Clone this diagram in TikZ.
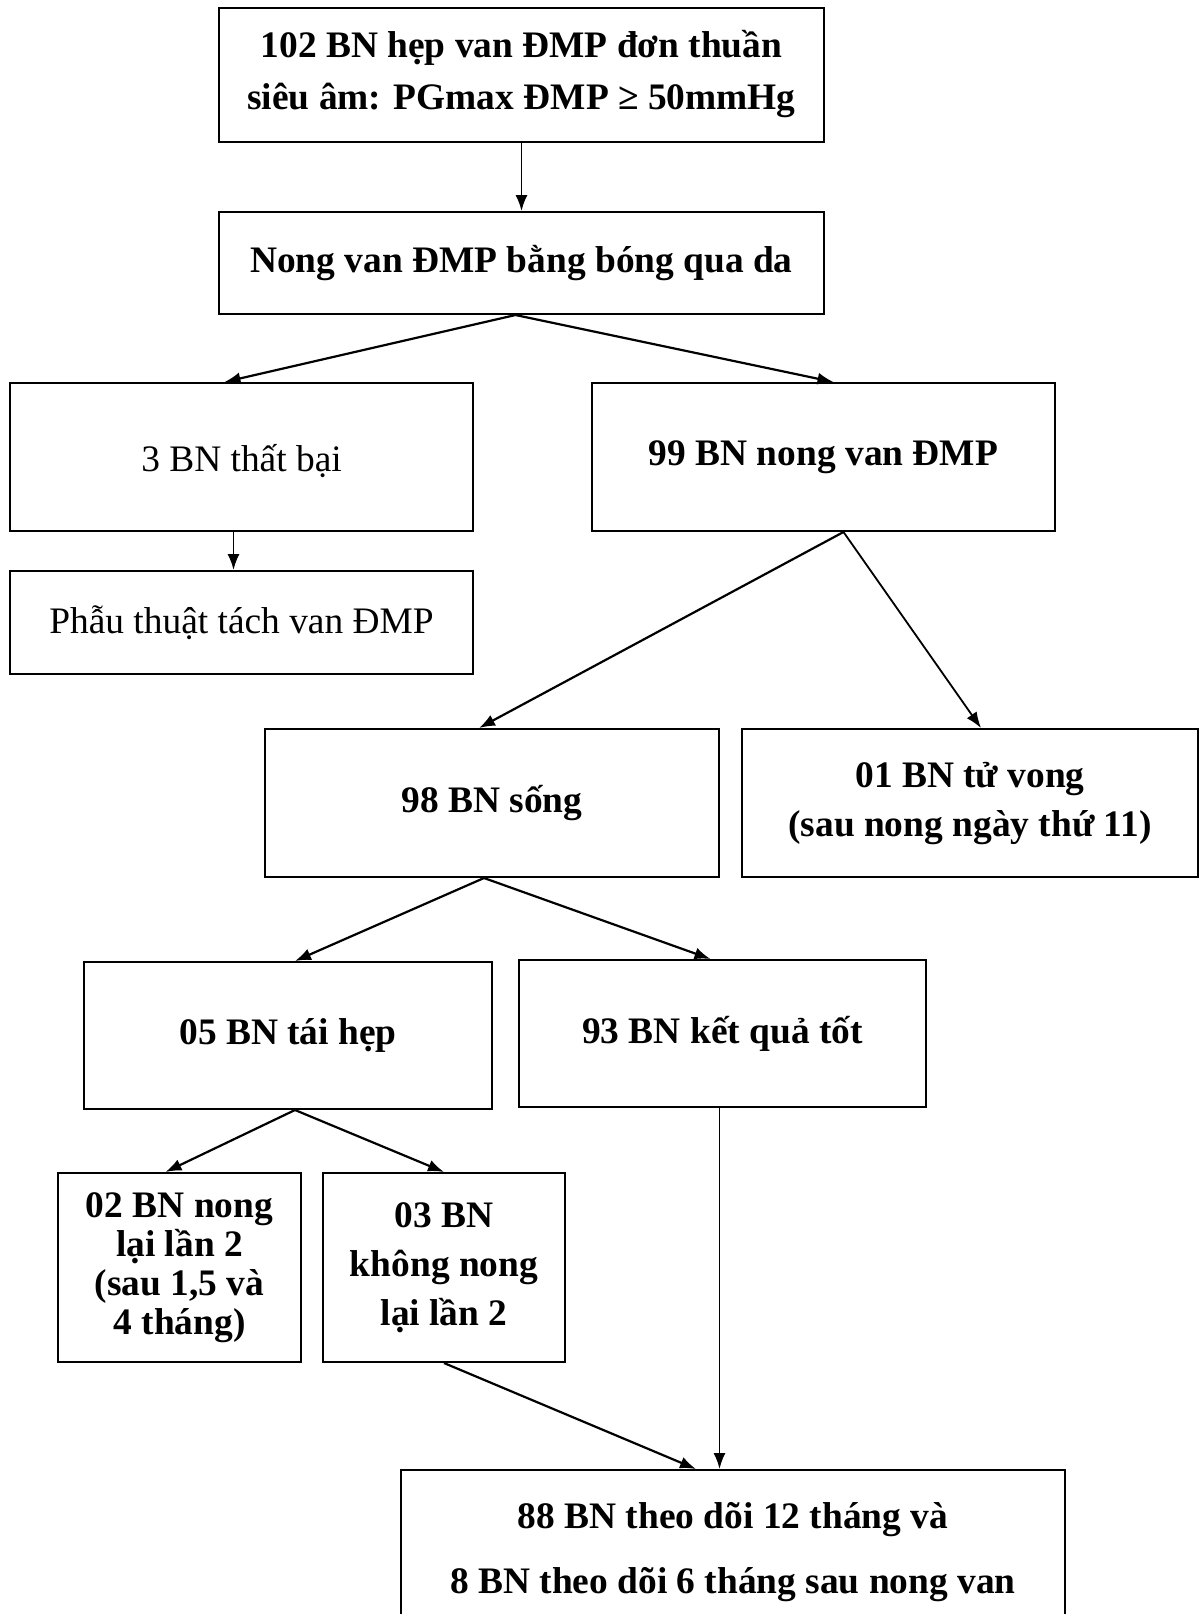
\documentclass[tikz,border=0pt]{standalone}
\usepackage{fontspec}
\setmainfont{Liberation Serif}
\usepackage{tikz}
\usetikzlibrary{arrows.meta}

\tikzset{
  box/.style={draw, line width=1pt, inner sep=0pt, align=center,
    font=\fontsize{18.7pt}{22.5pt}\selectfont\bfseries},
  plainbox/.style={box, font=\fontsize{18.7pt}{22.5pt}\selectfont},
  arr/.style={-{Latex[length=8pt,width=6pt]}, line width=1.1pt},
  thinarr/.style={arr, line width=0.9pt}
}

\begin{document}
\begin{tikzpicture}[x=0.5pt,y=-0.5pt]
%\draw[help lines](0,0)grid(1200,1614);
\useasboundingbox (0,0) rectangle (1200,1614);
\clip (0,0) rectangle (1200,1614);
\node[box, minimum width=302.5pt, minimum height=67pt] (start) at (521.5,75)
  {102 BN hẹp van ĐMP đơn thuần\\[3.5pt]siêu âm: PGmax ĐMP ≥ 50mmHg\\[-17.5pt]};
\node[box, minimum width=302.5pt, minimum height=51pt] (nong) at (521.5,263)
  {Nong van ĐMP bằng bóng qua da};
\node[plainbox, minimum width=231.5pt, minimum height=74pt, text height=18pt] (fail) at (241.5,457)
  {3 BN thất bại};
\node[box, minimum width=231.5pt, minimum height=74pt] (ok) at (823.5,457)
  {99 BN nong van ĐMP};
\node[plainbox, minimum width=231.5pt, minimum height=51.5pt] (surg) at (241.5,622.5)
  {Phẫu thuật tách van ĐMP};
\node[box, minimum width=227pt, minimum height=74pt] (alive) at (492,803)
  {98 BN sống};
\node[box, minimum width=228pt, minimum height=74pt] (dead) at (970,803)
  {01 BN tử vong\\[2pt](sau nong ngày thứ 11)};
\node[box, minimum width=204pt, minimum height=73.5pt] (resten) at (288,1035.5)
  {05 BN tái hẹp};
\node[box, minimum width=203.5pt, minimum height=73.5pt] (good) at (722.5,1033.5)
  {93 BN kết quả tốt};
\node[box, font=\fontsize{18.7pt}{19.5pt}\selectfont\bfseries,
  minimum width=121.5pt, minimum height=94.5pt] (redo) at (179.5,1267.5)
  {02 BN nong\\lại lần 2\\(sau 1,5 và\\4 tháng)};
\node[box, minimum width=121pt, minimum height=94.5pt] (noredo) at (444,1267.5)
  {03 BN\\[2pt]không nong\\[2pt]lại lần 2};
\node[box, minimum width=332pt, minimum height=82pt] (follow) at (733,1552)
  {88 BN theo dõi 12 tháng và\\[10pt]8 BN theo dõi 6 tháng sau nong van};
% arrows
\draw[thinarr] (start.south) -- (nong.north);
\draw[arr] ([xshift=-3pt]nong.south) -- ([xshift=-8.5pt]fail.north);
\draw[arr] ([xshift=-3pt]nong.south) -- ([xshift=5pt]ok.north);
\draw[thinarr] ([xshift=-4pt]fail.south) -- ([xshift=-4pt]surg.north);
\draw[arr] ([xshift=10pt]ok.south) -- ([xshift=-6.5pt]alive.north);
\draw[thinarr] ([xshift=10pt]ok.south) -- ([xshift=5.5pt]dead.north);
\draw[arr] ([xshift=-4pt]alive.south) -- ([xshift=3.5pt]resten.north);
\draw[arr] ([xshift=-4pt]alive.south) -- ([xshift=-6pt]good.north);
\draw[arr] ([xshift=3.5pt]resten.south) -- ([xshift=-7pt]redo.north);
\draw[arr] ([xshift=3.5pt]resten.south) -- (noredo.north);
\draw[arr] (noredo.south) -- ([xshift=-18.5pt]follow.north);
\draw[thinarr] ([xshift=-1.5pt]good.south) -- ([xshift=-1.5pt]good.south |- follow.north);
\end{tikzpicture}
\end{document}
